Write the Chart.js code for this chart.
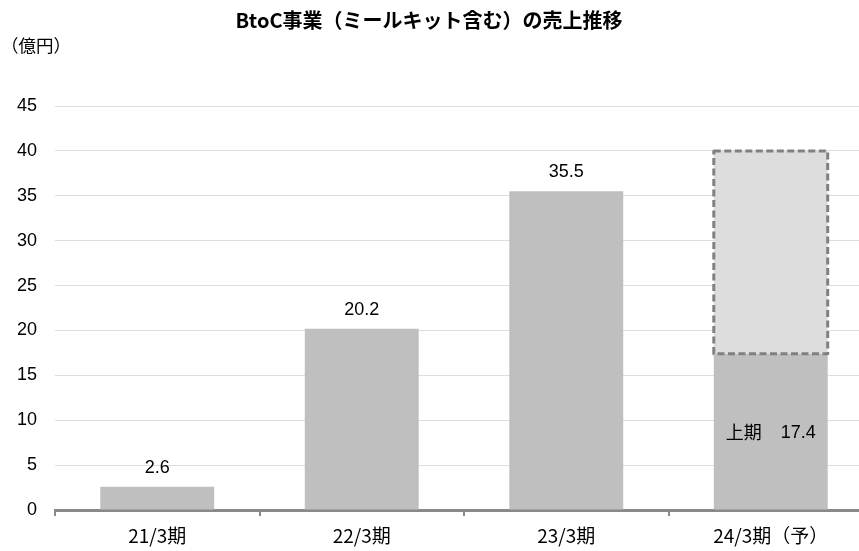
<!DOCTYPE html>
<html lang="ja">
<head>
<meta charset="utf-8">
<title>BtoC事業（ミールキット含む）の売上推移</title>
<script src="https://cdn.jsdelivr.net/npm/chart.js@4.4.1/dist/chart.umd.min.js"></script>
<style>
  html, body { margin: 0; padding: 0; background: #ffffff; overflow: hidden; }
  #wrap { position: relative; width: 873px; height: 551px; }
</style>
</head>
<body>
<div id="wrap"><canvas id="chart"></canvas></div>
<script>
// Fiscal periods and sales (億円)
const categories = ['21/3期', '22/3期', '23/3期', '24/3期（予）'];
const actualSales = [2.6, 20.2, 35.5, 17.4];        // results; last one is the first half (上期)
const forecastRemainder = [null, null, null, 22.6];  // rest of the full-year plan (total 40.0)
const yTicks = [0, 5, 10, 15, 20, 25, 30, 35, 40, 45];
const halfLabel = '上期';
const chartTitle = 'BtoC事業（ミールキット含む）の売上推移';
const unitLabel = '（億円）';

const JP = '"Noto Sans CJK JP", "Noto Sans", sans-serif';
const LAT = '"Liberation Sans", Arial, sans-serif';

// Title and unit caption
const headerPlugin = {
  id: 'header',
  afterDraw(chart) {
    const ctx = chart.ctx;
    ctx.save();
    ctx.fillStyle = '#000000';
    ctx.textBaseline = 'middle';
    ctx.textAlign = 'center';
    ctx.font = 'bold 20px ' + JP;
    ctx.fillText(chartTitle, 429, 20);
    ctx.textAlign = 'left';
    ctx.font = '17.5px ' + JP;
    ctx.fillText(unitLabel, 1, 45);
    ctx.restore();
  }
};

// Dashed outline around the plan portion of the last bar
const planOutline = {
  id: 'planOutline',
  afterDatasetsDraw(chart) {
    const meta = chart.getDatasetMeta(1);
    const ctx = chart.ctx;
    ctx.save();
    ctx.strokeStyle = '#808080';
    ctx.lineWidth = 3;
    ctx.setLineDash([7, 3.5]);
    ctx.lineJoin = 'round';
    meta.data.forEach((el, i) => {
      if (forecastRemainder[i] == null) return;
      const p = el.getProps(['x', 'y', 'base', 'width'], true);
      ctx.strokeRect(p.x - p.width / 2, p.y, p.width, p.base - p.y);
    });
    ctx.restore();
  }
};

// Value labels
const valueLabels = {
  id: 'valueLabels',
  afterDatasetsDraw(chart) {
    const meta = chart.getDatasetMeta(0);
    const ctx = chart.ctx;
    ctx.save();
    ctx.fillStyle = '#000000';
    ctx.textBaseline = 'middle';
    ctx.textAlign = 'center';
    meta.data.forEach((el, i) => {
      const p = el.getProps(['x', 'y', 'base'], true);
      const txt = actualSales[i].toFixed(1);
      if (forecastRemainder[i] != null) {
        const cy = (p.y + p.base) / 2 + 1;
        ctx.font = '18px ' + JP;
        const w1 = ctx.measureText(halfLabel).width;
        ctx.font = '18px ' + LAT;
        const w2 = ctx.measureText(txt).width;
        const gap = 19;
        const left = p.x - (w1 + gap + w2) / 2;
        ctx.textAlign = 'left';
        ctx.font = '18px ' + JP;
        ctx.fillText(halfLabel, left, cy);
        ctx.font = '18px ' + LAT;
        ctx.fillText(txt, left + w1 + gap, cy);
        ctx.textAlign = 'center';
      } else {
        ctx.font = '18px ' + LAT;
        ctx.fillText(txt, p.x, p.y - 19);
      }
    });
    ctx.restore();
  }
};

new Chart(document.getElementById('chart'), {
  type: 'bar',
  data: {
    labels: categories,
    datasets: [
      {
        data: actualSales,
        backgroundColor: '#bfbfbf',
        borderWidth: 0,
        barPercentage: 0.557,
        categoryPercentage: 1.0,
        stack: 's'
      },
      {
        data: forecastRemainder,
        backgroundColor: '#dddddd',
        borderWidth: 0,
        barPercentage: 0.557,
        categoryPercentage: 1.0,
        stack: 's'
      }
    ]
  },
  options: {
    responsive: true,
    maintainAspectRatio: false,
    animation: false,
    layout: { padding: { top: 106, left: 0, right: 0, bottom: 0 } },
    plugins: {
      legend: { display: false },
      title: { display: false },
      tooltip: { enabled: false }
    },
    scales: {
      x: {
        stacked: true,
        grid: {
          offset: true,
          drawOnChartArea: false,
          drawTicks: true,
          tickLength: 6,
          color: '#898989',
          lineWidth: 2
        },
        border: { display: true, color: '#898989', width: 3 },
        ticks: {
          color: '#000000',
          font: { family: JP, size: 19 },
          padding: 8,
          maxRotation: 0
        },
        afterFit(scale) { scale.height = 41; }
      },
      y: {
        stacked: true,
        min: 0,
        max: 45,
        afterBuildTicks(scale) { scale.ticks = yTicks.map(v => ({ value: v })); },
        grid: { color: '#dedede', lineWidth: 1, drawTicks: false },
        border: { display: false },
        ticks: {
          color: '#000000',
          font: { family: LAT, size: 18 },
          padding: 18
        },
        afterFit(scale) { scale.width = 55; }
      }
    }
  },
  plugins: [headerPlugin, planOutline, valueLabels]
});
</script>
</body>
</html>
